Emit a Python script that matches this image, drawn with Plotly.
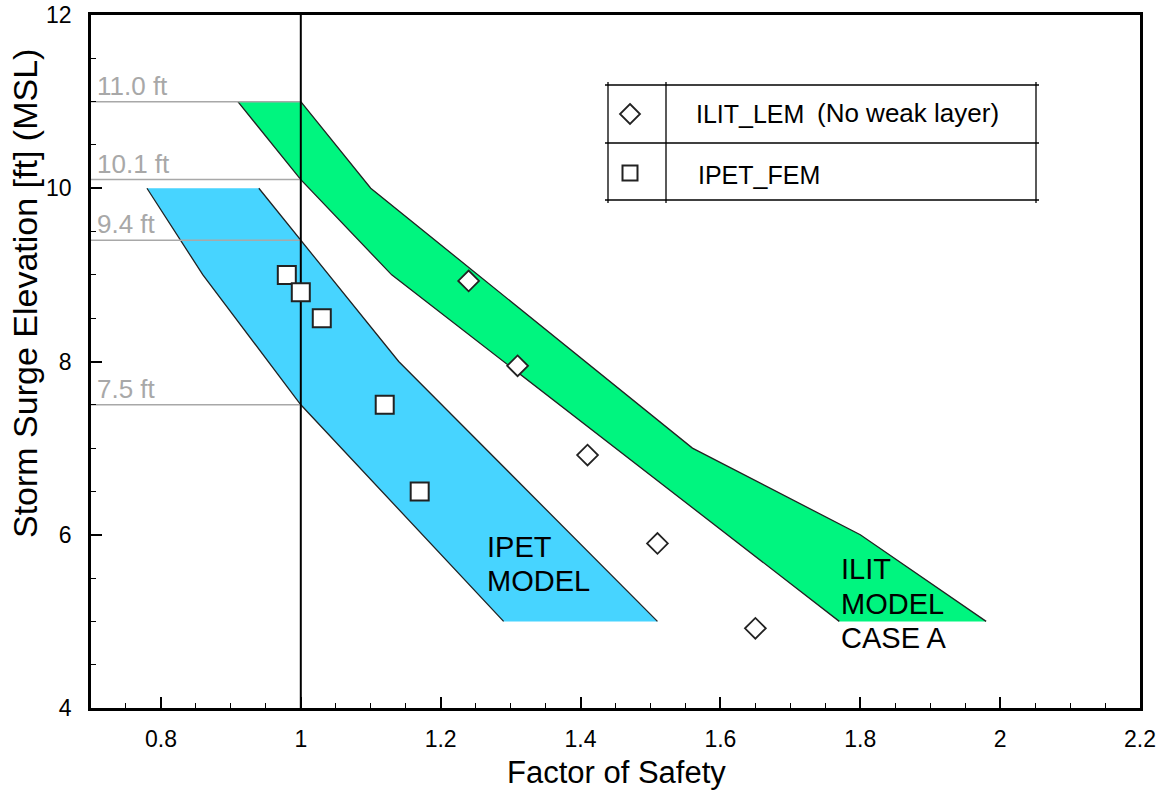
import plotly.graph_objects as go

# ---------------- data ----------------
# IPET model band (blue): left and right boundaries (factor of safety, elevation)
ipet_left_fs = [0.78, 0.86, 1.00, 1.29]
ipet_left_el = [10.0, 9.0, 7.5, 5.0]
ipet_right_fs = [0.94, 1.00, 1.14, 1.51]
ipet_right_el = [10.0, 9.4, 8.0, 5.0]

# ILIT model band (green), case A
ilit_left_fs = [0.91, 1.00, 1.13, 1.77]
ilit_left_el = [11.0, 10.1, 9.0, 5.0]
ilit_right_fs = [1.00, 1.10, 1.56, 1.80, 1.98]
ilit_right_el = [11.0, 10.0, 7.0, 6.0, 5.0]

# point results
ilit_lem_fs = [1.24, 1.31, 1.41, 1.51, 1.65]
ilit_lem_el = [8.93, 7.95, 6.92, 5.90, 4.92]
ipet_fem_fs = [0.98, 1.00, 1.03, 1.12, 1.17]
ipet_fem_el = [9.00, 8.80, 8.50, 7.50, 6.50]

# reference elevations at FS = 1
ref_levels = [11.0, 10.1, 9.4, 7.5]
ref_labels = ["11.0 ft", "10.1 ft", "9.4 ft", "7.5 ft"]
fs_threshold = 1.0

x_tickvals = [0.8, 1.0, 1.2, 1.4, 1.6, 1.8, 2.0, 2.2]
x_ticktext = ["0.8", "1", "1.2", "1.4", "1.6", "1.8", "2", "2.2"]
y_tickvals = [4, 6, 8, 10, 12]
y_ticktext = ["4", "6", "8", "10", "12"]
x_range = [0.7, 2.2]
y_range = [4, 12]

# ---------------- styling helpers ----------------
W, H = 1164, 792
ML, MR, MT, MB = 91, 24, 15, 84
PW, PH = W - ML - MR, H - MT - MB
FONT = "Liberation Sans, Arial, Helvetica, sans-serif"
GREEN = "#00F57F"
BLUE = "#47D4FF"
GRAY = "#a8a8a8"


def P(px, py):
    return (px - ML) / PW, (H - MB - py) / PH


fig = go.Figure()

# bands (fill only)
for lf, le, rf, re_, col in [
    (ipet_left_fs, ipet_left_el, ipet_right_fs, ipet_right_el, BLUE),
    (ilit_left_fs, ilit_left_el, ilit_right_fs, ilit_right_el, GREEN),
]:
    xs = list(rf) + list(reversed(lf))
    ys = list(re_) + list(reversed(le))
    fig.add_trace(go.Scatter(x=xs, y=ys, mode="lines", fill="toself",
                             fillcolor=col, line=dict(width=0, color=col),
                             hoverinfo="skip", showlegend=False))

# band edges
for fs, el in [(ipet_left_fs, ipet_left_el), (ipet_right_fs, ipet_right_el),
               (ilit_left_fs, ilit_left_el), (ilit_right_fs, ilit_right_el)]:
    fig.add_trace(go.Scatter(x=fs, y=el, mode="lines",
                             line=dict(color="#222222", width=1.3),
                             hoverinfo="skip", showlegend=False))

# gray reference lines
for lv in ref_levels:
    fig.add_trace(go.Scatter(x=[x_range[0], fs_threshold], y=[lv, lv], mode="lines",
                             line=dict(color=GRAY, width=1.5),
                             hoverinfo="skip", showlegend=False))

# FS = 1 vertical line
fig.add_trace(go.Scatter(x=[fs_threshold, fs_threshold], y=y_range, mode="lines",
                         line=dict(color="black", width=2),
                         hoverinfo="skip", showlegend=False))

# markers
fig.add_trace(go.Scatter(x=ipet_fem_fs, y=ipet_fem_el, mode="markers", name="IPET_FEM",
                         marker=dict(symbol="square", size=18, color="white",
                                     line=dict(color="#222222", width=2)),
                         showlegend=False))
fig.add_trace(go.Scatter(x=ilit_lem_fs, y=ilit_lem_el, mode="markers", name="ILIT_LEM",
                         marker=dict(symbol="diamond", size=16, color="white",
                                     line=dict(color="#222222", width=1.8)),
                         showlegend=False))

annotations = []
# reference labels
for lv, lab in zip(ref_levels, ref_labels):
    annotations.append(dict(x=x_range[0], y=lv, xref="x", yref="y", text=lab,
                            xanchor="left", yanchor="bottom", xshift=4, yshift=-1,
                            showarrow=False, font=dict(family=FONT, size=26, color=GRAY)))

# model labels
def lab(px, py, text, size=29):
    x, y = P(px, py)
    annotations.append(dict(x=x, y=y, xref="paper", yref="paper", text=text,
                            xanchor="left", yanchor="middle", showarrow=False,
                            font=dict(family=FONT, size=size, color="black")))

lab(485, 547, "IPET")
lab(485, 581, "MODEL")
lab(839, 569, "ILIT")
lab(839, 604, "MODEL")
lab(839, 638, "CASE A")

# legend texts
lab(694, 114, "ILIT_LEM", 25)
lab(815, 113, "(No weak layer)", 26)
lab(696, 175, "IPET_FEM", 25)

# axis titles
x, y = P(616, 772)
annotations.append(dict(x=x, y=y, xref="paper", yref="paper", text="Factor of Safety",
                        xanchor="center", yanchor="middle", showarrow=False,
                        font=dict(family=FONT, size=31, color="black")))
x, y = P(25, 294)
annotations.append(dict(x=x, y=y, xref="paper", yref="paper",
                        text="Storm Surge Elevation [ft] (MSL)", textangle=-90,
                        xanchor="center", yanchor="middle", showarrow=False,
                        font=dict(family=FONT, size=34, color="black")))

# legend table shapes
shapes = []
def seg(p0, p1, w=1.3):
    x0, y0 = P(*p0)
    x1, y1 = P(*p1)
    shapes.append(dict(type="line", xref="paper", yref="paper", x0=x0, y0=y0, x1=x1, y1=y1,
                       line=dict(color="black", width=w)))

lx0, lx1, lxd = 608, 1036, 666
ly0, ly1, lyd = 85, 200, 143
e = 3
for yy in (ly0, lyd, ly1):
    seg((lx0 - e, yy), (lx1 + e, yy))
for xx in (lx0, lxd, lx1):
    seg((xx, ly0 - e), (xx, ly1 + e))

# legend symbols (diamond, square)
def path_shape(pts, w=1.8):
    s = ""
    for i, (px, py) in enumerate(pts):
        x, y = P(px, py)
        s += ("M" if i == 0 else "L") + f"{x},{y} "
    s += "Z"
    shapes.append(dict(type="path", xref="paper", yref="paper", path=s,
                       fillcolor="white", line=dict(color="#222222", width=w)))

cx, cy, r = 630, 114, 10
path_shape([(cx, cy - r), (cx + r, cy), (cx, cy + r), (cx - r, cy)])
cx, cy, r = 630, 173, 7.5
path_shape([(cx - r, cy - r), (cx + r, cy - r), (cx + r, cy + r), (cx - r, cy + r)], w=2)

axis_common = dict(showline=True, linecolor="black", linewidth=2.5, mirror=True,
                   showgrid=False, zeroline=False, ticks="inside", ticklen=11,
                   tickwidth=2.2, tickcolor="black", automargin=False,
                   tickfont=dict(family=FONT, size=23, color="black"))

fig.update_layout(
    width=W, height=H,
    margin=dict(l=ML, r=MR, t=MT, b=MB, autoexpand=False),
    paper_bgcolor="white", plot_bgcolor="white",
    showlegend=False,
    annotations=annotations,
    shapes=shapes,
    xaxis=dict(range=x_range, tickmode="array", tickvals=x_tickvals, ticktext=x_ticktext,
               ticklabelstandoff=9,
               minor=dict(tickmode="linear", tick0=0.7, dtick=0.05, ticks="inside",
                          ticklen=5, tickwidth=1.3, tickcolor="black"),
               **axis_common),
    yaxis=dict(range=y_range, tickmode="array", tickvals=y_tickvals, ticktext=y_ticktext,
               ticklabelstandoff=12,
               minor=dict(tickmode="linear", tick0=4, dtick=0.5, ticks="inside",
                          ticklen=5, tickwidth=1.3, tickcolor="black"),
               **axis_common),
)

fig.write_html("out.html", config={"displayModeBar": False},
               post_script="document.body.style.margin='0';")
